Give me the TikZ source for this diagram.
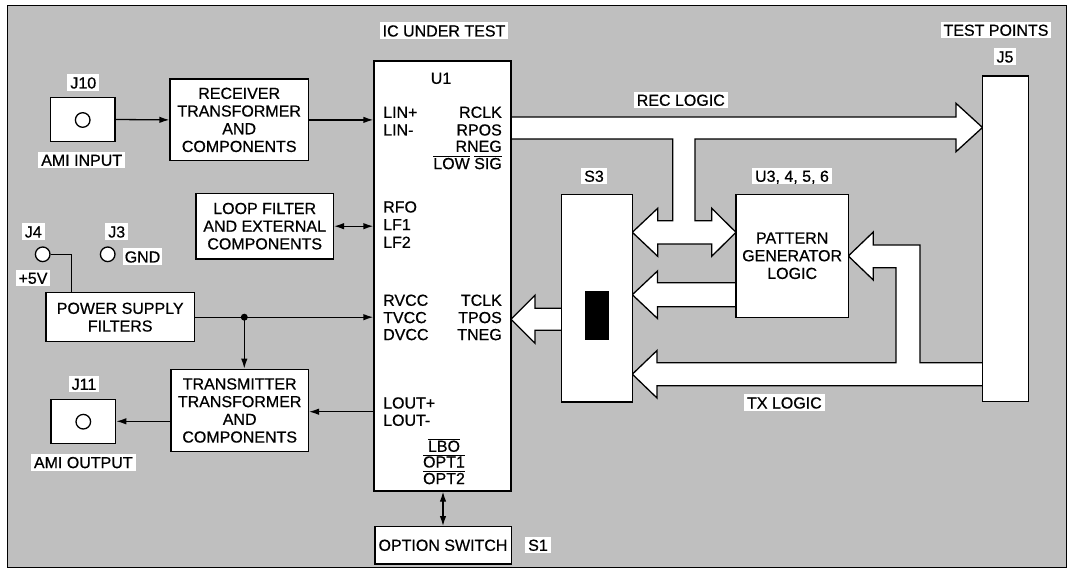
\documentclass[tikz,border=0pt]{standalone}
\usepackage{fontspec}
\setmainfont{Liberation Sans}[FakeBold=0.6]
\usetikzlibrary{arrows.meta}
\newcommand\ovl[1]{$\overline{\hbox{#1}}$}
\definecolor{bggray}{gray}{0.75}
\begin{document}
\begin{tikzpicture}[x=1pt,y=-1pt,
  every node/.style={font=\fontsize{16}{17.7}\selectfont},
  box/.style={draw, fill=white, line width=1.3pt, inner sep=0pt, align=center},
  lbl/.style={fill=white, inner xsep=3pt, inner ysep=2.5pt, text height=11.6pt, text depth=0pt},
  pin/.style={inner sep=0pt, text height=11.6pt, text depth=0pt},
  fat/.style={draw, fill=white, line width=1.3pt, line join=miter},
  conn/.style={line width=1.3pt, -{Latex[length=10pt,width=6.5pt]}},
  dconn/.style={line width=1.3pt, {Latex[length=10pt,width=6.5pt]}-{Latex[length=10pt,width=6.5pt]}},
  wire/.style={line width=1.3pt},
  jack/.style={circle, draw, fill=white, line width=1.3pt, minimum size=14.6pt, inner sep=0pt}]
\useasboundingbox (0,0) rectangle (1069,572);
\fill[white] (0,0) rectangle (1069,572);
\fill[bggray] (7,6) rectangle (1066,567);
\draw[line width=1pt] (7,6) rectangle (1066,567);

% fat bus arrows
\draw[fat] (511,117) -- (956,117) -- (956,103.3) -- (982.5,127.5) -- (956,151.7) -- (956,139) -- (695,139) -- (695,220.7) -- (711.7,220.7) -- (711.7,208.3) -- (736,232.3) -- (711.7,256.3) -- (711.7,244) -- (657.7,244) -- (657.7,256.3) -- (632.3,232.3) -- (657.7,208.3) -- (657.7,220.7) -- (672.7,220.7) -- (672.7,139) -- (511,139);
\draw[fat] (736,282.7) -- (657.5,282.7) -- (657.5,271) -- (632.3,294.7) -- (657.5,318.5) -- (657.5,306.7) -- (736,306.7);
\draw[fat] (561.7,308.3) -- (535,308.3) -- (535,295.3) -- (511,319.3) -- (535,343.3) -- (535,330.3) -- (561.7,330.3);
\draw[fat] (982.5,362.7) -- (920,362.7) -- (920,245) -- (873.3,245) -- (873.3,232) -- (848.3,256) -- (873.3,280) -- (873.3,267.7) -- (896,267.7) -- (896,362.7) -- (657,362.7) -- (657,350.5) -- (632.3,374.2) -- (657,398) -- (657,385.7) -- (982.5,385.7);

% U1
\node[lbl] (ictitle) at (444,30.7) {IC UNDER TEST};
\node[box, minimum width=137pt, minimum height=430pt] (u1) at (442.5,276) {};
\node[pin] (u1lab) at (441,78) {U1};
\node[pin, anchor=west] (linp) at (383,112) {LIN+};
\node[pin, anchor=west] (linm) at (383,129.7) {LIN-};
\node[pin, anchor=west] (rfo) at (383,206.7) {RFO};
\node[pin, anchor=west] (lf1) at (383,224.3) {LF1};
\node[pin, anchor=west] (lf2) at (383,242) {LF2};
\node[pin, anchor=west] (rvcc) at (383,300) {RVCC};
\node[pin, anchor=west] (tvcc) at (383,317.3) {TVCC};
\node[pin, anchor=west] (dvcc) at (383,334.3) {DVCC};
\node[pin, anchor=west] (loutp) at (383,402.7) {LOUT+};
\node[pin, anchor=west] (loutm) at (383,420) {LOUT-};
\node[pin, anchor=east] (rclk) at (502,112) {RCLK};
\node[pin, anchor=east] (rpos) at (502,129.7) {RPOS};
\node[pin, anchor=east] (rneg) at (502,146) {RNEG};
\node[pin, anchor=east] (lowsig) at (502,163.3) {\ovl{LOW} \ovl{SIG}};
\node[pin, anchor=east] (tclk) at (502,300) {TCLK};
\node[pin, anchor=east] (tpos) at (502,317.3) {TPOS};
\node[pin, anchor=east] (tneg) at (502,334.3) {TNEG};
\node[pin] (lbo) at (444,446) {\ovl{LBO}};
\node[pin] (opt1) at (444,461.7) {\ovl{OPT1}};
\node[pin] (opt2) at (444,478.3) {\ovl{OPT2}};

\node[box, minimum width=136.3pt, minimum height=37.3pt] (opt) at (443,545.3) {OPTION SWITCH};
\node[lbl] (s1) at (538,545) {S1};

% left side
\node[lbl] (j10lab) at (83.3,82.7) {J10};
\node[box, minimum width=64.3pt, minimum height=44.4pt] (j10) at (82.9,119.5) {};
\node[jack] (j10c) at (82.7,120) {};
\node[lbl] (amiin) at (81.7,160) {AMI INPUT};
\node[box, minimum width=138.3pt, minimum height=81.7pt] (rec) at (239.2,119.9) {RECEIVER\\TRANSFORMER\\AND\\COMPONENTS};
\node[box, minimum width=137.3pt, minimum height=65.7pt] (loop) at (264.7,226.2) {LOOP FILTER\\AND EXTERNAL\\COMPONENTS};

\node[lbl] (j4lab) at (33.3,231.7) {J4};
\node[jack] (j4) at (42.7,254.3) {};
\node[lbl] (p5v) at (33,278) {+5V};
\node[lbl] (j3lab) at (116.7,231.7) {J3};
\node[jack] (j3) at (107.7,254.3) {};
\node[lbl, inner xsep=2pt] (gnd) at (142.5,256.7) {GND};

\node[box, minimum width=148.3pt, minimum height=49pt] (power) at (120.2,317.2) {POWER SUPPLY\\FILTERS};
\node[box, minimum width=137.3pt, minimum height=82.4pt] (tx) at (239.7,410.5) {TRANSMITTER\\TRANSFORMER\\AND\\COMPONENTS};
\node[lbl] (j11lab) at (84,384) {J11};
\node[box, minimum width=64.7pt, minimum height=44pt] (j11) at (83.3,421.3) {};
\node[jack] (j11c) at (83.3,421.7) {};
\node[lbl] (amiout) at (83.3,462.3) {AMI OUTPUT};

% right side
\node[lbl] (reclogic) at (680.8,100) {REC LOGIC};
\node[lbl] (txlogic) at (784.4,402.7) {TX LOGIC};
\node[lbl] (s3lab) at (594,176) {S3};
\node[box, minimum width=70.6pt, minimum height=207.7pt] (s3) at (597,298.15) {};
\fill (585,291) rectangle (609,340.3);
\node[lbl] (u3lab) at (792,176) {U3, 4, 5, 6};
\node[box, minimum width=112.3pt, minimum height=123pt] (pat) at (792.15,255.8) {PATTERN\\GENERATOR\\LOGIC};
\node[lbl] (testpts) at (996,30) {TEST POINTS};
\node[lbl] (j5lab) at (1005,56.7) {J5};
\node[box, minimum width=45.8pt, minimum height=325.7pt] (j5) at (1005.4,238.85) {};

% thin connectors
\draw[conn] (j10.east) -- (rec.west);
\draw[conn] (rec.east) -- (rec.east -| u1.west);
\draw[dconn] (loop.east) -- (loop.east -| u1.west);
\coordinate (j4c) at (71.7,254.3);
\draw[wire] (j4.east) -- (j4c) -- (j4c |- power.north);
\draw[conn] (power.east) -- (power.east -| u1.west);
\node[circle, fill, inner sep=0pt, minimum size=7pt] (dot) at (244.3,317.2) {};
\draw[conn] (dot.center) -- (dot |- tx.north);
\coordinate (toutL) at (309,411.7);
\draw[conn] (u1.west |- toutL) -- (toutL);
\draw[conn] (tx.west |- j11.east) -- (j11.east);
\draw[dconn] (opt.north) -- (opt.north |- u1.south);
\end{tikzpicture}
\end{document}
